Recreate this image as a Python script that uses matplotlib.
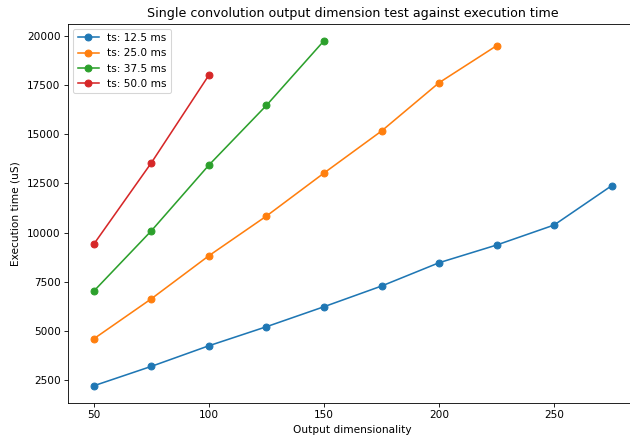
#!/usr/bin/env python3

from matplotlib import pyplot as plt

DIMS = [50, 75, 100, 125, 150, 175, 200, 225, 250, 275]

TS_LABELS = ["ts: 12.5 ms", "ts: 25.0 ms", "ts: 37.5 ms", "ts: 50.0 ms"]

TIMES_12_5 = [2210, 3197, 4245, 5213, 6230, 7282, 8468, 9367, 10385, 12384]
TIMES_25_0 = [4601, 6636, 8825, 10843, 13030, 15167, 17624, 19506]
TIMES_37_5 = [7027, 10095, 13437, 16474, 19760]
TIMES_50_0 = [9418, 13555, 18015]

series = [TIMES_12_5, TIMES_25_0, TIMES_37_5, TIMES_50_0]

DPI = 76
fig = plt.figure(figsize=(630 / DPI, 438 / DPI), dpi=DPI)
ax = fig.add_axes([68 / 630, 1 - 403 / 438, 569.5 / 630, (403 - 23.5) / 438])
for label, times in zip(TS_LABELS, series):
    ax.plot(DIMS[:len(times)], times, marker="o", markersize=6.5, label=label)
ax.set_title("Single convolution output dimension test against execution time")
ax.set_xlabel("Output dimensionality")
ax.set_ylabel("Execution time (uS)", labelpad=6.5)
ax.legend(loc="upper left")
fig.savefig("out.png", dpi=DPI)
